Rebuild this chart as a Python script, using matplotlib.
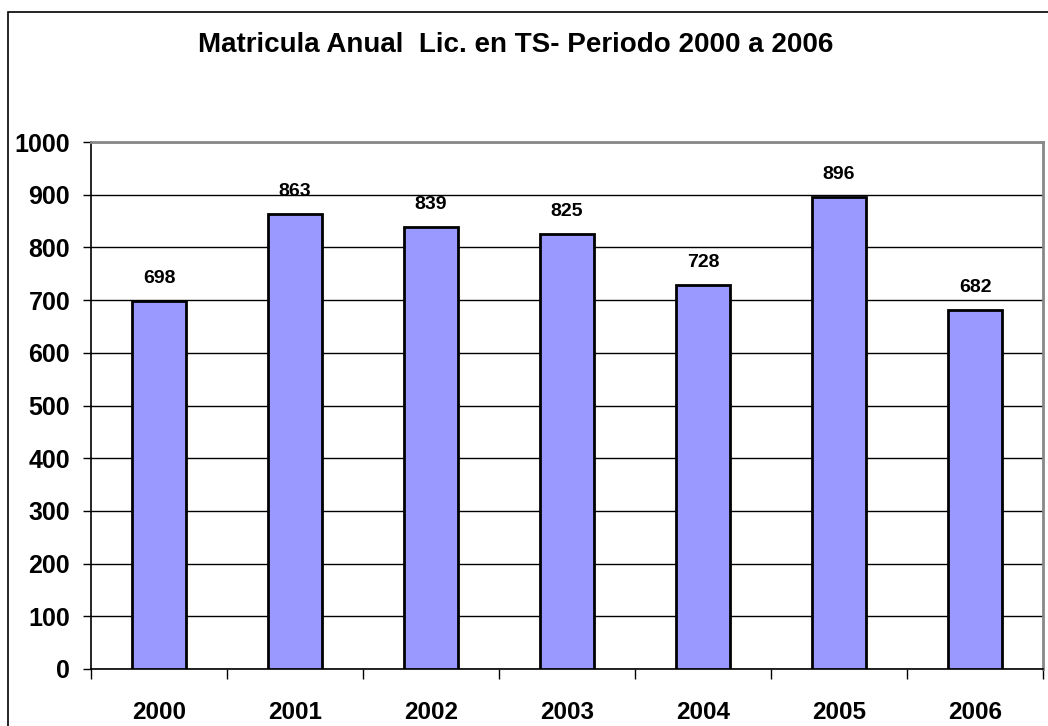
import matplotlib
matplotlib.use("Agg")
import matplotlib.pyplot as plt
from matplotlib.patches import Rectangle
import numpy as np

years = ["2000", "2001", "2002", "2003", "2004", "2005", "2006"]
values = [698, 863, 839, 825, 728, 896, 682]
yticks = [0, 100, 200, 300, 400, 500, 600, 700, 800, 900, 1000]
title = "Matricula Anual  Lic. en TS- Periodo 2000 a 2006"

plt.rcParams['font.family'] = ['Liberation Sans', 'DejaVu Sans']

fig = plt.figure(figsize=(10.48, 7.26), dpi=100)
fig.patches.append(Rectangle((8/1048, -0.01), 1.1, (726-12)/726 + 0.01,
                             transform=fig.transFigure, fill=False,
                             edgecolor='black', linewidth=1.2))
ax = fig.add_axes([91/1048, (726-669)/726, (1043-91)/1048, (669-142)/726])

x = np.arange(len(years))
ax.bar(x, values, width=0.40, color='#9999FF', edgecolor='black', linewidth=2, zorder=3)
for xi, v in zip(x, values):
    ax.text(xi, v + 34, str(v), ha='center', va='baseline', fontsize=14, fontweight='bold')

ax.set_xlim(-0.5, len(years) - 0.5)
ax.set_ylim(0, 1000)
ax.set_yticks(yticks)
ax.set_yticklabels([str(t) for t in yticks], fontsize=18, fontweight='bold')
ax.yaxis.grid(True, color='black', linewidth=1, zorder=0)
ax.set_axisbelow(True)

ax.set_xticks(x)
ax.set_xticklabels(years, fontsize=17.5, fontweight='bold')
ax.tick_params(axis='x', which='major', length=0, pad=23)
ax.set_xticks(np.arange(-0.5, len(years)), minor=True)
ax.tick_params(axis='x', which='minor', length=7, width=1, color='black', direction='out')
ax.tick_params(axis='y', length=6, width=1, color='black', pad=9)

for s in ['top', 'right']:
    ax.spines[s].set_color('#888888')
    ax.spines[s].set_linewidth(2)
for s in ['left', 'bottom']:
    ax.spines[s].set_color('black')
    ax.spines[s].set_linewidth(1.2)

fig.text(516/1048, 1 - 45/726, title, ha='center', va='center', fontsize=20, fontweight='bold')

fig.savefig("out.png", dpi=100)
